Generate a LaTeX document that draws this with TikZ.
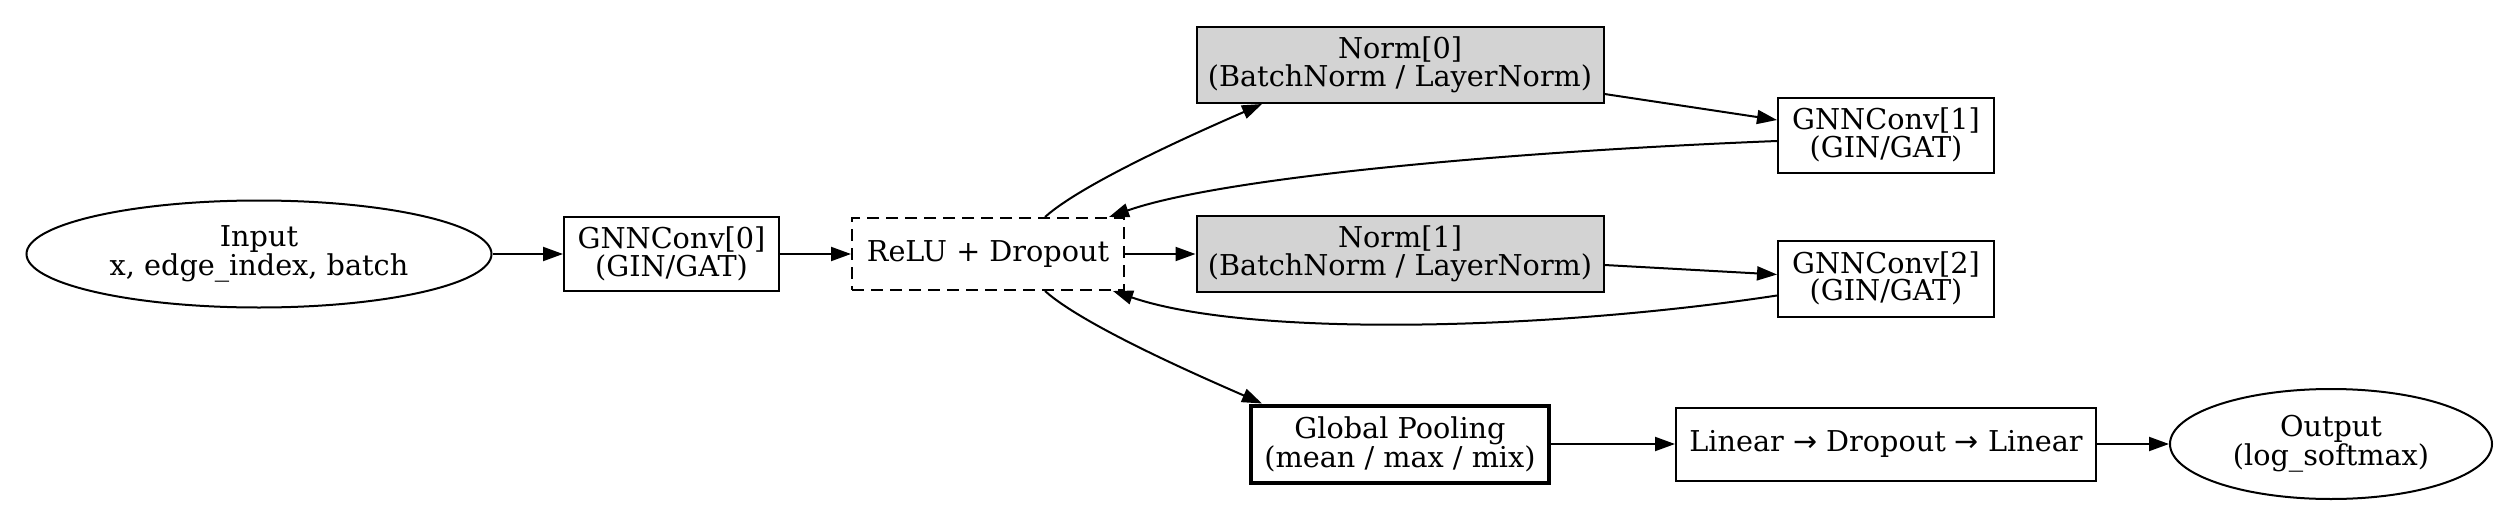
\documentclass[tikz,border=0pt]{standalone}
\usepackage{fontspec}
\setmainfont{DejaVu Serif}
\newfontfamily\arrowfont{DejaVu Sans}
\usetikzlibrary{shapes.geometric,arrows.meta,calc}
\tikzset{
  base/.style={draw, line width=2pt, inner sep=0pt, align=center,
    font=\fontsize{28.7}{27.5}\selectfont},
  boxn/.style={base, rectangle},
  ovaln/.style={base, ellipse},
  normn/.style={boxn, fill={rgb,255:red,211;green,211;blue,211}},
  edge/.style={line width=2pt, -{Triangle[length=20pt,width=14pt]}},
}
\begin{document}
\begin{tikzpicture}[x=1pt,y=-1pt]
\useasboundingbox (0,0) rectangle (2520,527);
\node[ovaln, minimum width=465pt, minimum height=107pt] (in) at (259,254) {Input\\x, edge\_index, batch};
\node[boxn, minimum width=215pt, minimum height=74pt] (g0) at (671.5,254) {GNNConv[0]\\(GIN/GAT)};
\node[boxn, dash pattern=on 12pt off 7pt, minimum width=272pt, minimum height=72pt] (relu) at (988,254) {ReLU + Dropout};
\node[normn, minimum width=407pt, minimum height=76pt] (n0) at (1400,65) {Norm[0]\\(BatchNorm / LayerNorm)};
\node[normn, minimum width=407pt, minimum height=76pt] (n1) at (1400,254) {Norm[1]\\(BatchNorm / LayerNorm)};
\node[boxn, minimum width=216pt, minimum height=75pt] (g1) at (1886,135) {GNNConv[1]\\(GIN/GAT)};
\node[boxn, minimum width=216pt, minimum height=76pt] (g2) at (1886,278.5) {GNNConv[2]\\(GIN/GAT)};
\node[boxn, line width=4pt, minimum width=298pt, minimum height=77pt] (pool) at (1400,444) {Global Pooling\\(mean / max / mix)};
\node[boxn, minimum width=420pt, minimum height=73pt] (lin) at (1886,444) {Linear {\arrowfont →} Dropout {\arrowfont →} Linear};
\node[ovaln, minimum width=322pt, minimum height=110pt] (out) at (2331,444) {Output\\(log\_softmax)};

\draw[edge] (in) -- (g0);
\draw[edge] (g0) -- (relu);
\draw[edge] (relu) -- (n1);
\draw[edge] ([xshift=57pt]relu.north) .. controls ++(40,-36) and ++(-50,22) .. ([xshift=-138pt]n0.south);
\draw[edge] ([xshift=57pt]relu.south) .. controls ++(40,36) and ++(-50,-22) .. ([xshift=-138pt]pool.north);
\draw[edge] ([yshift=-29pt]n0.east) -- ([yshift=15pt]g1.west);
\draw[edge] ([yshift=-11pt]n1.east) -- ([yshift=4pt]g2.west);
\draw[edge] ([yshift=-6pt]g1.west) .. controls (1500,152) and (1220,178) .. ([xshift=-16pt]relu.north east);
\draw[edge] ([yshift=-17pt]g2.west) .. controls (1550,330) and (1250,338) .. ([xshift=-12pt]relu.south east);
\draw[edge] (pool) -- (lin);
\draw[edge] (lin) -- (out);
\end{tikzpicture}
\end{document}
